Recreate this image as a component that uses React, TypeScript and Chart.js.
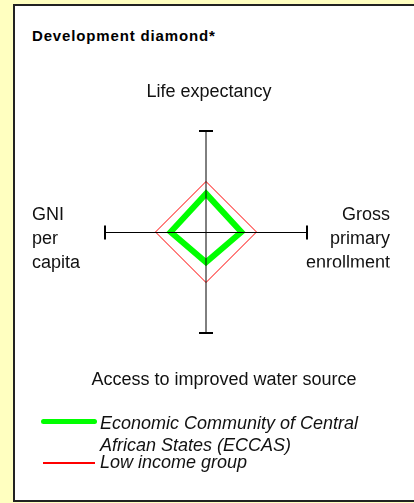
import React, { useEffect, useRef } from "react";
import { Chart, registerables } from "chart.js";

Chart.register(...registerables);

// ---- data ----
const categories: string[][] = [
  ["Life expectancy"],
  ["Gross", "primary", "enrollment"],
  ["Access to improved water source"],
  ["GNI", "per", "capita"],
];
const eccasValues: number[] = [38, 35, 30, 35];
const lowIncomeValues: number[] = [50, 50, 50, 50];
const seriesNames: string[] = [
  "Economic Community of Central African States (ECCAS)",
  "Low income group",
];
const axisMin = 0;
const axisMax = 100;
const titleText = "Development diamond*";

// ---- styles ----
const FONT = '"Liberation Sans", Arial, Helvetica, sans-serif';
const seriesColors = ["#00ff00", "#ff0000"];
const seriesWidths = [6, 1];

// label placement relative to each axis end point (layout only)
const labelLayout = [
  { align: "center", dx: 3, dy: -34, clipBottom: null as number | null },
  { align: "right", dx: 83, dy: -12, clipBottom: 35.5 },
  { align: "center", dx: 18, dy: 52, clipBottom: null },
  { align: "left", dx: -73, dy: -12, clipBottom: null },
];

const diamondPlugin = {
  id: "diamondAxes",
  afterDatasetsDraw(chart: any) {
    const r = chart.scales.r;
    const ctx: CanvasRenderingContext2D = chart.ctx;
    const labels = chart.data.labels as string[][];
    const n = labels.length;
    ctx.save();
    ctx.strokeStyle = "#000";
    ctx.lineCap = "butt";
    for (let i = 0; i < n; i++) {
      const p = r.getPointPositionForValue(i, axisMax);
      const dx = p.x - r.xCenter;
      const dy = p.y - r.yCenter;
      const len = Math.hypot(dx, dy) || 1;
      const horizontal = Math.abs(dy) < 1;
      const off = horizontal ? 0.5 : 0;
      ctx.lineWidth = 1;
      ctx.beginPath();
      ctx.moveTo(r.xCenter, r.yCenter + off);
      ctx.lineTo(p.x, p.y + off);
      ctx.stroke();
      const ux = -dy / len;
      const uy = dx / len;
      ctx.lineWidth = 2;
      ctx.beginPath();
      ctx.moveTo(p.x + ux * 7, p.y + uy * 7 + off);
      ctx.lineTo(p.x - ux * 7, p.y - uy * 7 + off);
      ctx.stroke();
    }
    // point labels
    ctx.fillStyle = "#111";
    ctx.font = `18px ${FONT}`;
    ctx.textBaseline = "alphabetic";
    for (let i = 0; i < n; i++) {
      const p = r.getPointPositionForValue(i, axisMax);
      const lay = labelLayout[i];
      const lines = labels[i];
      ctx.save();
      if (lay.clipBottom !== null) {
        ctx.beginPath();
        ctx.rect(0, 0, chart.width, r.yCenter + lay.clipBottom);
        ctx.clip();
      }
      ctx.textAlign = lay.align as CanvasTextAlign;
      lines.forEach((t, k) => {
        ctx.fillText(t, p.x + lay.dx, p.y + lay.dy + k * 24);
      });
      ctx.restore();
    }
    ctx.restore();
  },
};

function DiamondChart() {
  const ref = useRef<HTMLCanvasElement | null>(null);
  useEffect(() => {
    if (!ref.current) return;
    const chart = new Chart(ref.current, {
      type: "radar",
      data: {
        labels: categories as any,
        datasets: [
          {
            label: seriesNames[1],
            data: lowIncomeValues,
            borderColor: seriesColors[1],
            borderWidth: seriesWidths[1],
            fill: false,
            pointRadius: 0,
            borderJoinStyle: "miter",
            tension: 0,
          },
          {
            label: seriesNames[0],
            data: eccasValues,
            borderColor: seriesColors[0],
            borderWidth: seriesWidths[0],
            fill: false,
            pointRadius: 0,
            borderJoinStyle: "miter",
            tension: 0,
          },
        ],
      },
      options: {
        responsive: false,
        maintainAspectRatio: false,
        devicePixelRatio: 1,
        animation: false,
        layout: { padding: { left: 105, right: 107, top: 131, bottom: 170 } },
        plugins: {
          legend: { display: false },
          tooltip: { enabled: false },
          title: { display: false },
        },
        scales: {
          r: {
            min: axisMin,
            max: axisMax,
            ticks: { display: false },
            grid: { display: false },
            angleLines: { display: false },
            pointLabels: { display: false },
          },
        },
      } as any,
      plugins: [diamondPlugin],
    });
    return () => chart.destroy();
  }, []);
  return (
    <canvas
      ref={ref}
      width={414}
      height={503}
      style={{ position: "absolute", left: 0, top: 0, width: 414, height: 503 }}
    />
  );
}

const legendTops = [412, 451];
const legendLineY = [419, 462];

export default function App() {
  return (
    <div
      style={{
        position: "fixed",
        left: 0,
        top: 0,
        width: 414,
        height: 503,
        overflow: "hidden",
        background: "#ffffc0",
        fontFamily: FONT,
      }}
    >
      <div
        style={{
          position: "absolute",
          left: 13,
          top: 4,
          width: 500,
          height: 498,
          boxSizing: "border-box",
          background: "#fff",
          borderLeft: "2px solid #222",
          borderTop: "2px solid #222",
          borderBottom: "2px solid #222",
        }}
      />
      <div
        style={{
          position: "absolute",
          left: 32,
          top: 27,
          fontSize: 15,
          lineHeight: "18px",
          fontWeight: "bold",
          letterSpacing: "0.85px",
          color: "#000",
          whiteSpace: "nowrap",
        }}
      >
        {titleText}
      </div>
      <DiamondChart />
      {seriesNames.map((name, i) => (
        <React.Fragment key={name}>
          <div
            style={{
              position: "absolute",
              left: i === 0 ? 41 : 43,
              top: legendLineY[i],
              width: i === 0 ? 56 : 52,
              height: i === 0 ? 5 : 0,
              borderRadius: i === 0 ? 3 : 0,
              backgroundColor: i === 0 ? seriesColors[i] : "transparent",
              borderTop: i === 0 ? "none" : `2px solid ${seriesColors[i]}`,
            }}
          />
          <div
            style={{
              position: "absolute",
              left: 100,
              top: legendTops[i],
              width: 280,
              fontSize: 18,
              lineHeight: "22px",
              fontStyle: "italic",
              color: "#111",
            }}
          >
            {name}
          </div>
        </React.Fragment>
      ))}
    </div>
  );
}
